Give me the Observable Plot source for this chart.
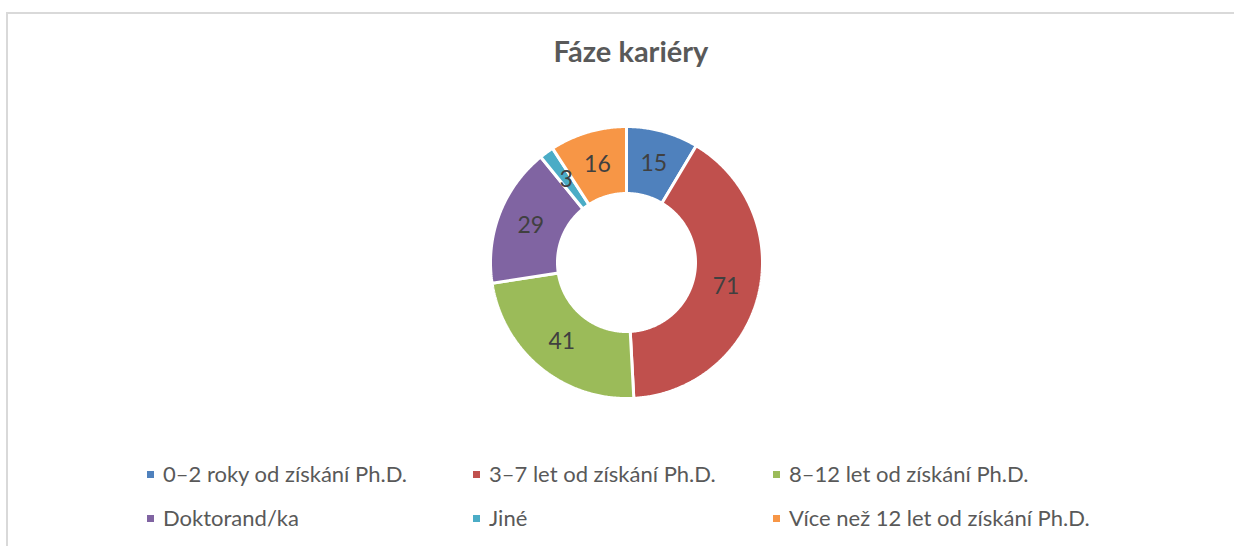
<!DOCTYPE html>
<html>
<head>
<meta charset="utf-8">
<script src="https://cdn.jsdelivr.net/npm/d3@7"></script>
<script src="https://cdn.jsdelivr.net/npm/@observablehq/plot@0.6"></script>
<style>
  html, body { margin: 0; padding: 0; background: #fff; width: 1234px; height: 546px; overflow: hidden; position: relative; font-family: Lato, "Open Sans", sans-serif; }
  #frame { position: absolute; left: 6px; top: 12px; width: 1240px; height: 560px; border-top: 2px solid #d9d9d9; border-left: 2px solid #d9d9d9; box-sizing: border-box; }
  #title { position: absolute; left: 431px; width: 400px; text-align: center; font-weight: bold; font-size: 29px; line-height: 29px; color: #595959; }
  #chart { position: absolute; }
  .li { position: absolute; font-size: 22px; line-height: 22px; color: #595959; white-space: nowrap; }
  .sw { position: absolute; width: 7px; height: 7px; }
</style>
</head>
<body>
<div id="frame"></div>
<div id="title">Fáze kariéry</div>
<div id="chart"></div>
<div id="legend"></div>
<script>
const categories = ["0–2 roky od získání Ph.D.", "3–7 let od získání Ph.D.", "8–12 let od získání Ph.D.", "Doktorand/ka", "Jiné", "Více než 12 let od získání Ph.D."];
const values = [15, 71, 41, 29, 3, 16];
const colors = ["#4F81BD", "#C0504D", "#9BBB59", "#8064A2", "#4BACC6", "#F79646"];
const legendOrder = [0, 1, 2, 3, 4, 5];
const chartTitle = "Fáze kariéry";

// layout
const cx = 626, cy = 262, outerPx = 136, innerPx = 69, box = 300;
const innerRatio = innerPx / outerPx;
const R = (box / 2) / outerPx;
const legendSize = 22;

document.getElementById("title").textContent = chartTitle;
document.getElementById("title").style.top = (62 - 0.887 * 29) + "px";

const total = d3.sum(values);
let acc = 0;
const slices = values.map((v, i) => {
  const a0 = acc / total * 2 * Math.PI;
  acc += v;
  const a1 = acc / total * 2 * Math.PI;
  return { key: categories[i], value: v, a0, a1 };
});

const pts = [];
for (const s of slices) {
  const n = Math.max(4, Math.ceil((s.a1 - s.a0) / (Math.PI / 360)));
  for (let k = 0; k <= n; k++) {
    const a = s.a0 + (s.a1 - s.a0) * k / n;
    pts.push({ key: s.key, x: Math.sin(a), y: Math.cos(a) });
  }
  for (let k = n; k >= 0; k--) {
    const a = s.a0 + (s.a1 - s.a0) * k / n;
    pts.push({ key: s.key, x: innerRatio * Math.sin(a), y: innerRatio * Math.cos(a) });
  }
}
const labelR = (1 + innerRatio) / 2;
const labels = slices.map(s => {
  const m = (s.a0 + s.a1) / 2;
  return { text: String(s.value), x: labelR * Math.sin(m), y: labelR * Math.cos(m) };
});

const plot = Plot.plot({
  width: box, height: box, margin: 0,
  x: { domain: [-R, R], axis: null },
  y: { domain: [-R, R], axis: null },
  color: { domain: categories, range: colors },
  style: { background: "transparent", overflow: "visible" },
  marks: [
    Plot.line(pts, { x: "x", y: "y", z: "key", fill: "key", stroke: "white", strokeWidth: 3, curve: "linear-closed", strokeLinejoin: "miter" }),
    Plot.text(labels, { x: "x", y: "y", text: "text", fontSize: 23, fill: "#404040", fontFamily: "Lato, sans-serif" })
  ]
});
const chart = document.getElementById("chart");
chart.style.left = (cx - box / 2) + "px";
chart.style.top = (cy - box / 2) + "px";
chart.appendChild(plot);

// legend
const colX = [147, 473, 773];
const rowBase = [483, 527];
const legend = document.getElementById("legend");
legendOrder.forEach((ci, j) => {
  const col = j % 3, row = Math.floor(j / 3);
  const sw = document.createElement("div");
  sw.className = "sw";
  sw.style.background = colors[ci];
  sw.style.left = colX[col] + "px";
  sw.style.top = (rowBase[row] - 12) + "px";
  legend.appendChild(sw);
  const t = document.createElement("div");
  t.className = "li";
  t.textContent = categories[ci];
  t.style.left = (colX[col] + 16) + "px";
  t.style.top = (rowBase[row] - 0.887 * legendSize) + "px";
  legend.appendChild(t);
});
</script>
</body>
</html>
